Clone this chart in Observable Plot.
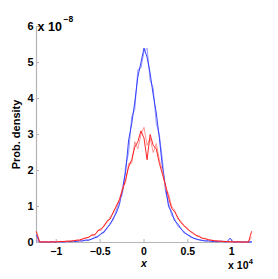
<!DOCTYPE html>
<html>
<head>
<meta charset="utf-8">
<script src="https://cdn.jsdelivr.net/npm/d3@7"></script>
<script src="https://cdn.jsdelivr.net/npm/@observablehq/plot@0.6"></script>
<style>
  html, body { margin: 0; padding: 0; background: #fff; }
  #chart svg { display: block; }
</style>
</head>
<body>
<div id="chart"></div>
<script>
// x positions (units of 1e4)
const xs = [-1.225,-1.19,-1.155,-1.12,-1.085,-1.05,-1.015,-0.98,-0.945,-0.91,-0.875,-0.84,-0.805,-0.77,-0.735,-0.7,-0.665,-0.63,-0.595,-0.56,-0.525,-0.49,-0.455,-0.42,-0.385,-0.35,-0.315,-0.28,-0.245,-0.21,-0.175,-0.14,-0.105,-0.07,-0.035,0,0.035,0.07,0.105,0.14,0.175,0.21,0.245,0.28,0.315,0.35,0.385,0.42,0.455,0.49,0.525,0.56,0.595,0.63,0.665,0.7,0.735,0.77,0.805,0.84,0.875,0.91,0.945,0.98,1.015,1.05,1.085,1.12,1.155,1.19,1.225];

// densities (units of 1e-8)
const blueA = [0.2,0.01,0.02,0.01,0.015,0.02,0.01,0.03,0.015,0.02,0.03,0.02,0.035,0.03,0.05,0.04,0.07,0.06,0.1,0.13,0.16,0.25,0.28,0.42,0.5,0.68,0.82,1.05,1.5,1.95,2.85,3.3,3.9,4.6,5.0,5.4,5.15,4.7,4.1,3.6,2.9,2.1,1.55,1.0,0.85,0.6,0.52,0.38,0.3,0.22,0.18,0.12,0.1,0.07,0.06,0.04,0.05,0.03,0.03,0.02,0.04,0.02,0.015,0.12,0.01,0.02,0.015,0.01,0.02,0.01,0.02];
const blueB = [0.05,0.02,0.01,0.02,0.01,0.015,0.02,0.01,0.025,0.015,0.02,0.03,0.025,0.04,0.035,0.06,0.05,0.08,0.09,0.15,0.18,0.22,0.33,0.38,0.55,0.62,0.9,1.15,1.35,2.1,2.5,3.5,3.7,4.8,4.85,5.3,5.4,4.5,4.3,3.3,3.0,2.3,1.4,1.1,0.75,0.65,0.45,0.4,0.26,0.24,0.15,0.14,0.08,0.08,0.05,0.05,0.035,0.04,0.02,0.03,0.02,0.03,0.02,0.02,0.02,0.01,0.02,0.015,0.01,0.02,0.01];
const redA = [0.3,0.02,0.01,0.02,0.01,0.02,0.015,0.02,0.03,0.025,0.04,0.035,0.05,0.06,0.07,0.1,0.12,0.15,0.2,0.22,0.32,0.38,0.45,0.6,0.65,0.85,1.0,1.2,1.45,1.75,2.1,2.3,2.65,2.8,3.1,2.9,2.3,3.0,2.7,2.6,2.2,1.9,1.6,1.25,0.95,0.85,0.7,0.55,0.48,0.38,0.32,0.25,0.2,0.16,0.12,0.1,0.08,0.06,0.05,0.04,0.035,0.03,0.025,0.02,0.02,0.015,0.02,0.01,0.015,0.01,0.3];
const redB = [0.1,0.01,0.02,0.015,0.02,0.01,0.02,0.03,0.02,0.035,0.03,0.045,0.04,0.07,0.06,0.09,0.14,0.13,0.22,0.2,0.35,0.33,0.5,0.55,0.72,0.8,1.05,1.15,1.55,1.65,2.2,2.2,2.8,2.6,3.0,3.2,2.7,2.9,2.5,2.75,2.3,2.0,1.5,1.35,1.0,0.9,0.65,0.6,0.45,0.42,0.3,0.28,0.18,0.18,0.11,0.12,0.07,0.07,0.045,0.05,0.03,0.035,0.02,0.025,0.015,0.02,0.01,0.015,0.01,0.015,0.15];

const xTicks = [-1, -0.5, 0, 0.5, 1];
const xTickLabels = ["\u22121", "\u22120.5", "0", "0.5", "1"];
const yTicks = [0, 1, 2, 3, 4, 5, 6];
const yTickLabels = ["0", "1", "2", "3", "4", "5", "6"];

const series = [
  {name: "blueB", values: blueB, color: "#8c8cff"},
  {name: "blueA", values: blueA, color: "#2030ff"},
  {name: "redB", values: redB, color: "#ff8c8c"},
  {name: "redA", values: redA, color: "#ff1010"}
];
const rows = series.flatMap(s => xs.map((x, i) => ({x, y: s.values[i], s: s.name})));

const font = "'Liberation Sans', Arial, Helvetica, sans-serif";
const axisGray = "#b4b4b4";

const chart = Plot.plot({
  width: 278,
  height: 279,
  marginLeft: 36,
  marginRight: 27,
  marginTop: 26,
  marginBottom: 37,
  style: {fontFamily: font, fontSize: "11px", fontWeight: "bold", color: "#000", background: "#fff"},
  x: {domain: [-1.225, 1.225]},
  y: {domain: [0, 6]},
  color: {domain: series.map(s => s.name), range: series.map(s => s.color)},
  marks: [
    Plot.ruleX([-1.225], {stroke: axisGray, strokeWidth: 1.2}),
    Plot.ruleY([0], {stroke: axisGray, strokeWidth: 1.2}),
    Plot.axisY({ticks: yTicks, tickFormat: d => yTickLabels[yTicks.indexOf(d)], tickSize: -3, tickPadding: 6, stroke: axisGray, fill: "#000", fontWeight: "bold", fontSize: 11,
      label: "Prob. density", labelAnchor: "center", labelOffset: 24, labelArrow: "none"}),
    Plot.axisX({ticks: xTicks, tickFormat: d => xTickLabels[xTicks.indexOf(d)], tickSize: -3, tickPadding: 8, stroke: axisGray,
      fill: "#000", fontWeight: "bold", fontSize: 10.5, label: null}),
    Plot.lineY(rows, {x: "x", y: "y", z: "s", stroke: "s", strokeWidth: 0.9}),
    Plot.text(["x"], {frameAnchor: "bottom", dy: 24.5, fontStyle: "italic", fontWeight: "bold", fontSize: 10.5, fill: "#000"}),
    Plot.text(["x 10"], {frameAnchor: "bottom-right", dy: 26.5, dx: -3, textAnchor: "end", fontWeight: "bold", fontSize: 10.5, fill: "#000"}),
    Plot.text(["4"], {frameAnchor: "bottom-right", dy: 21.5, dx: 1.5, textAnchor: "end", fontWeight: "bold", fontSize: 7.5, fill: "#000"}),
    Plot.text(["x 10"], {frameAnchor: "top-left", dy: -4.5, dx: 1, textAnchor: "start", fontWeight: "bold", fontSize: 12.5, fill: "#000"}),
    Plot.text(["\u22128"], {frameAnchor: "top-left", dy: -10.5, dx: 27, textAnchor: "start", fontWeight: "bold", fontSize: 8.5, fill: "#000"})
  ]
});
document.getElementById("chart").appendChild(chart);
</script>
</body>
</html>
